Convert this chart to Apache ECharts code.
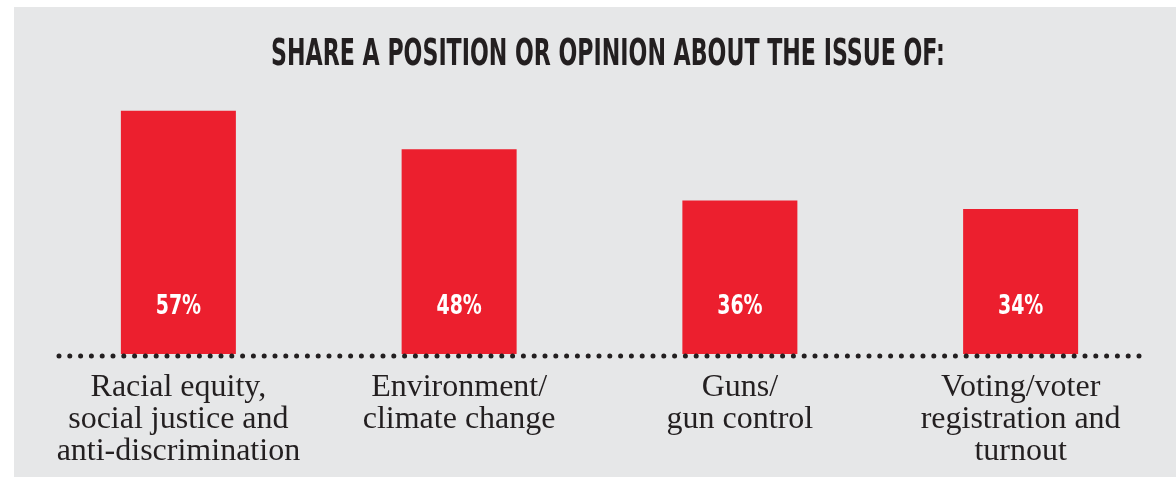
<!DOCTYPE html>
<html>
<head>
<meta charset="utf-8">
<title>Share a position or opinion</title>
<script src="https://cdn.jsdelivr.net/npm/echarts@6/dist/echarts.min.js"></script>
<style>
  html, body { margin: 0; padding: 0; background: #ffffff; }
  #chart { width: 1176px; height: 478px; }
</style>
</head>
<body>
<div id="chart"></div>
<script>
// data
var titleText = "SHARE A POSITION OR OPINION ABOUT THE ISSUE OF:";
var categories = [
  "Racial equity,\nsocial justice and\nanti-discrimination",
  "Environment/\nclimate change",
  "Guns/\ngun control",
  "Voting/voter\nregistration and\nturnout"
];
var shares = [57, 48, 36, 34];

var red = "#ec1f2e";
var ink = "#231f20";
var condensed = "'Liberation Sans Narrow', 'DejaVu Sans Condensed', sans-serif";

var myChart = echarts.init(document.getElementById("chart"));

var option = {
  backgroundColor: "#ffffff",
  animation: false,
  graphic: [
    {
      type: "rect",
      z: -100,
      shape: { x: 14, y: 7, width: 1162, height: 470 },
      style: { fill: "#e6e7e8" }
    },
    {
      type: "text",
      x: 608,
      y: 55,
      scaleX: 0.665,
      style: {
        text: titleText,
        fill: ink,
        font: "bold 37px " + condensed,
        textAlign: "center",
        textVerticalAlign: "middle"
      }
    },
    {
      // dotted baseline
      type: "line",
      z: 100,
      shape: { x1: 59, y1: 356, x2: 1146, y2: 356 },
      style: {
        stroke: ink,
        lineWidth: 5,
        lineCap: "round",
        lineDash: [0, 10.8]
      }
    }
  ],
  grid: {
    left: 38,
    right: 15,
    top: 98,
    bottom: 124
  },
  xAxis: {
    type: "category",
    data: categories,
    axisLine: { show: false },
    axisTick: { show: false },
    axisLabel: {
      interval: 0,
      margin: 18,
      color: ink,
      fontFamily: "'Liberation Serif', 'DejaVu Serif', serif",
      fontSize: 32,
      lineHeight: 32
    }
  },
  yAxis: {
    type: "value",
    min: 0,
    max: 60,
    show: false,
    splitLine: { show: false }
  },
  series: [
    {
      type: "bar",
      data: shares,
      barWidth: 115,
      itemStyle: { color: red }
    },
    {
      // narrow white value labels near the bar bottoms
      type: "custom",
      z: 10,
      data: shares,
      renderItem: function (params, api) {
        var p = api.coord([api.value(0), 0]);
        return {
          type: "text",
          x: p[0],
          y: p[1] - 47,
          scaleX: 0.78,
          style: {
            text: api.value(1) + "%",
            fill: "#ffffff",
            font: "bold 27px " + condensed,
            textAlign: "center",
            textVerticalAlign: "middle"
          }
        };
      }
    }
  ]
};

myChart.setOption(option);
</script>
</body>
</html>
